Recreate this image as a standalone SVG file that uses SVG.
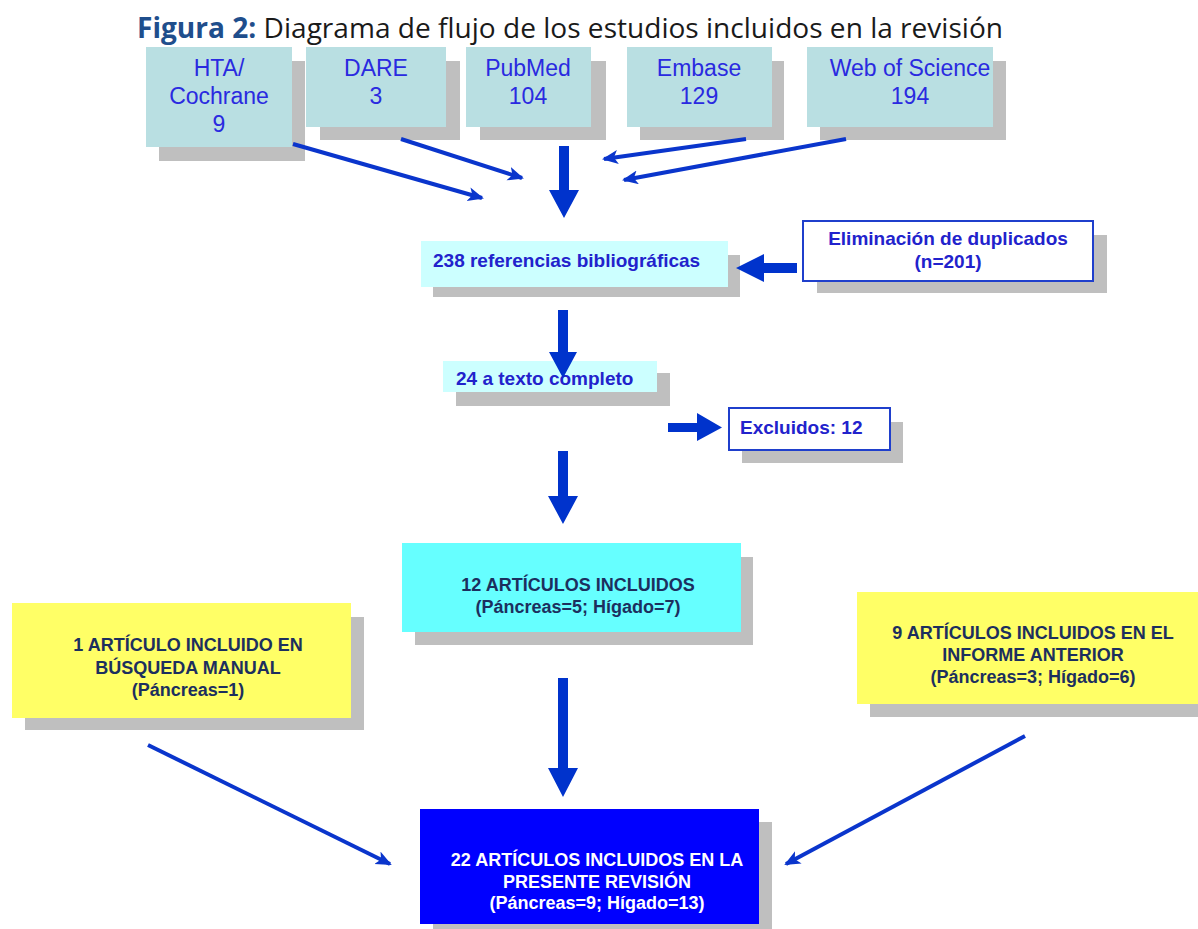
<svg xmlns="http://www.w3.org/2000/svg" width="1198" height="929" viewBox="0 0 1198 929">
<style>
.sh{fill:#bfbfbf}
.src{fill:#b9dfe2}
.srct{font-family:"Liberation Sans",Arial,sans-serif;font-size:23px;fill:#2a2ae0;text-anchor:middle}
.cy{fill:#ccffff}
.wb{fill:#ffffff;stroke:#1f3fcc;stroke-width:2}
.bt{font-family:"Liberation Sans",Arial,sans-serif;font-size:19px;font-weight:bold;fill:#2222cc}
.yl{fill:#ffff66}
.dk{font-family:"Liberation Sans",Arial,sans-serif;font-size:18px;font-weight:bold;fill:#1c2f5e;text-anchor:middle}
.wt{font-family:"Liberation Sans",Arial,sans-serif;font-size:18px;font-weight:bold;fill:#ffffff;text-anchor:middle}
.big{fill:#0033cc}
.thin{stroke:#0a35cc;stroke-width:4;fill:none;marker-end:url(#ah)}
</style>
<defs>
<marker id="ah" markerUnits="userSpaceOnUse" markerWidth="18" markerHeight="16" refX="14" refY="7" orient="auto">
<path d="M0,0 L16,7 L0,14 L4,7 Z" fill="#0a35cc"/>
</marker>
</defs>
<rect width="1198" height="929" fill="#ffffff"/>
<g id="title">
<text x="137" y="38" font-family="'Open Sans','Noto Sans',sans-serif" font-size="28" fill="#1a1a1a" textLength="866" lengthAdjust="spacingAndGlyphs"><tspan font-weight="bold" fill="#1f4e8c">Figura 2:</tspan> Diagrama de flujo de los estudios incluidos en la revisión</text>
</g>
<g id="hta">
<rect class="sh" x="159" y="61" width="146" height="100"/>
<rect class="src" x="146" y="47" width="146" height="100"/>
<text class="srct" x="219" y="76">HTA/</text>
<text class="srct" x="219" y="104">Cochrane</text>
<text class="srct" x="219" y="132">9</text>
</g>
<g id="dare">
<rect class="sh" x="320" y="61" width="140" height="79"/>
<rect class="src" x="306" y="47" width="140" height="80"/>
<text class="srct" x="376" y="76">DARE</text>
<text class="srct" x="376" y="104">3</text>
</g>
<g id="pubmed">
<rect class="sh" x="480" y="61" width="126" height="79"/>
<rect class="src" x="466" y="47" width="125" height="80"/>
<text class="srct" x="528" y="76">PubMed</text>
<text class="srct" x="528" y="104">104</text>
</g>
<g id="embase">
<rect class="sh" x="640" y="61" width="144" height="79"/>
<rect class="src" x="627" y="47" width="145" height="80"/>
<text class="srct" x="699" y="76">Embase</text>
<text class="srct" x="699" y="104">129</text>
</g>
<g id="wos">
<rect class="sh" x="820" y="61" width="186" height="79"/>
<rect class="src" x="807" y="47" width="186" height="80"/>
<text class="srct" x="910" y="76">Web of Science</text>
<text class="srct" x="910" y="104">194</text>
</g>
<g id="refs">
<rect class="sh" x="433" y="255" width="307" height="42"/>
<rect class="cy" x="421" y="241" width="307" height="46"/>
<text class="bt" x="433" y="267">238 referencias bibliográficas</text>
</g>
<g id="dup">
<rect class="sh" x="817" y="235" width="290" height="58"/>
<rect class="wb" x="803" y="221" width="290" height="60"/>
<text class="bt" x="948" y="245" text-anchor="middle">Eliminación de duplicados</text>
<text class="bt" x="948" y="268" text-anchor="middle">(n=201)</text>
</g>
<g id="full">
<rect class="sh" x="456" y="373" width="214" height="33"/>
<rect class="cy" x="443" y="361" width="214" height="31"/>
<text class="bt" x="456" y="385">24 a texto completo</text>
</g>
<g id="excl">
<rect class="sh" x="742" y="422" width="161" height="41"/>
<rect class="wb" x="729" y="408" width="161" height="42"/>
<text class="bt" x="740" y="434">Excluidos: 12</text>
</g>
<g id="inc12">
<rect class="sh" x="415" y="557" width="338" height="88"/>
<rect x="402" y="543" width="339" height="89" fill="#66ffff"/>
<text class="dk" x="578" y="591">12 ARTÍCULOS INCLUIDOS</text>
<text class="dk" x="578" y="613">(Páncreas=5; Hígado=7)</text>
</g>
<g id="manual">
<rect class="sh" x="25" y="617" width="339" height="113"/>
<rect class="yl" x="12" y="603" width="339" height="115"/>
<text class="dk" x="188" y="651">1 ARTÍCULO INCLUIDO EN</text>
<text class="dk" x="188" y="674">BÚSQUEDA MANUAL</text>
<text class="dk" x="188" y="696">(Páncreas=1)</text>
</g>
<g id="prev">
<rect class="sh" x="870" y="605" width="340" height="112"/>
<rect class="yl" x="857" y="592" width="341" height="112"/>
<text class="dk" x="1033" y="639">9 ARTÍCULOS INCLUIDOS EN EL</text>
<text class="dk" x="1033" y="661">INFORME ANTERIOR</text>
<text class="dk" x="1033" y="683">(Páncreas=3; Hígado=6)</text>
</g>
<g id="final">
<rect class="sh" x="433" y="822" width="339" height="110"/>
<rect x="420" y="809" width="339" height="115" fill="#0000ff"/>
<text class="wt" x="597" y="866">22 ARTÍCULOS INCLUIDOS EN LA</text>
<text class="wt" x="597" y="888">PRESENTE REVISIÓN</text>
<text class="wt" x="597" y="909">(Páncreas=9; Hígado=13)</text>
</g>
<g id="connectors">
<line class="thin" x1="293" y1="144" x2="482" y2="198"/>
<line class="thin" x1="401" y1="139" x2="522" y2="178"/>
<line class="thin" x1="746" y1="139" x2="604" y2="159"/>
<line class="thin" x1="846" y1="139" x2="624" y2="180"/>
<path class="big" d="M559,146 L569,146 L569,190 L579,190 L564,218 L549,190 L559,190 Z"/>
<path class="big" d="M797,263 L797,273 L764,273 L764,282 L736,268 L764,254 L764,263 Z"/>
<path class="big" d="M558,310 L568,310 L568,352 L577,352 L563,378 L549,352 L558,352 Z"/>
<path class="big" d="M668,423 L697,423 L697,413 L722,427.5 L697,441 L697,432 L668,432 Z"/>
<path class="big" d="M558,451 L568,451 L568,496 L578,496 L563,524 L548,496 L558,496 Z"/>
<path class="big" d="M558,678 L568,678 L568,768 L578,768 L563,797 L548,768 L558,768 Z"/>
<line class="thin" x1="148" y1="745" x2="390" y2="864"/>
<line class="thin" x1="1025" y1="736" x2="786" y2="864"/>
</g>
</svg>
